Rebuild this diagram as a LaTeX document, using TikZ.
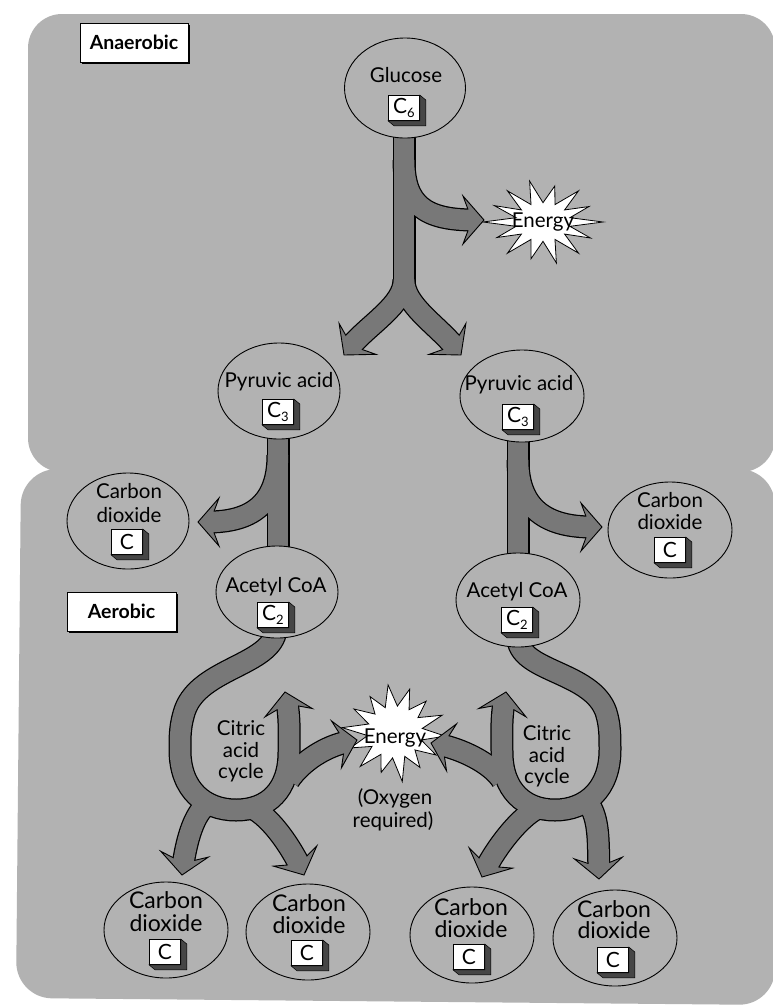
\documentclass[tikz,border=0pt]{standalone}
\usepackage{fontspec}
\setmainfont{Lato}
\usetikzlibrary{shapes.geometric,calc}
\definecolor{bggray}{RGB}{178,178,178}
\definecolor{arrowgray}{RGB}{120,120,120}
\definecolor{shadegray}{RGB}{70,70,70}
\tikzset{
  blob/.style={ellipse, draw=black, line width=0.9pt, fill=bggray, inner sep=0pt},
  txt/.style={inner sep=0pt, anchor=base, font=\fontsize{20.5}{24}\selectfont},
  bigtxt/.style={inner sep=0pt, anchor=base, font=\fontsize{23}{24}\selectfont},
  cboxsty/.style={draw=black, line width=0.8pt, fill=white, minimum width=31pt, minimum height=25pt, inner sep=0pt, font=\fontsize{21}{21}\selectfont},
  labelbox/.style={draw=black, line width=1pt, fill=white, inner sep=0pt, font=\bfseries\fontsize{19.5}{24}\selectfont},
  shaftout/.style={draw=black, line width=23pt},
  shaftin/.style={draw=arrowgray, line width=20.5pt},
  headsty/.style={fill=arrowgray, draw=black, line width=0.9pt, line join=miter},
  starsty/.style={fill=white, draw=black, line width=0.8pt, line join=miter},
}
\newcommand\fathead[2]{\path[headsty, shift={(#1)}, rotate=#2] (0,0) -- (-21,24) -- (-16,10.6) -- (-16,-10.6) -- (-21,-24) -- cycle;}
\newcommand\cshade[1]{\path[fill=shadegray, draw=black, line width=0.5pt] (#1.north east) -- ([shift={(6,5)}]#1.north east) -- ([shift={(6,5)}]#1.south east) -- ([shift={(6,5)}]#1.south west) -- (#1.south west) -- (#1.south east) -- cycle;}
\newcommand\Csub[1]{C\raisebox{-4pt}{\fontsize{13}{13}\selectfont #1}}
\newcommand\shaftpaths[1]{%
  \path[#1] (404,130) -- (404,285);
  \path[#1] (404,160) .. controls (404,205) and (425,220) .. (474,220);
  \path[#1] (404,280) .. controls (404,305) and (369,324) .. (350,347);
  \path[#1] (404,280) .. controls (404,305) and (436,324) .. (455,347);
  \path[#1] (278,430) -- (278,555);
  \path[#1] (278,455) .. controls (278,505) and (250,522) .. (208,522);
  \path[#1] (518,435) -- (518,558);
  \path[#1] (518,460) .. controls (518,510) and (548,527) .. (592,527);
  \path[#1] (276,630) .. controls (272,665) and (200,668) .. (185,710)
     .. controls (180,725) and (180,735) .. (180,750)
     .. controls (180,790) and (205,810) .. (236,810)
     .. controls (268,810) and (289,790) .. (289,752)
     .. controls (289,735) and (290,721) .. (287,702);
  \path[#1] (289,780) .. controls (303,760) and (327,746) .. (347,742);
  \path[#1] (205,806) .. controls (192,818) and (186,845) .. (183,865);
  \path[#1] (252,808) .. controls (272,818) and (291,848) .. (300,866);
  \path[#1] (518,640) .. controls (522,672) and (592,672) .. (606,712)
     .. controls (610,725) and (610,735) .. (610,750)
     .. controls (610,790) and (585,810) .. (555,810)
     .. controls (524,810) and (502,790) .. (502,752)
     .. controls (502,735) and (501,721) .. (504,702);
  \path[#1] (502,780) .. controls (490,762) and (460,749) .. (441,745);
  \path[#1] (538,808) .. controls (518,818) and (495,850) .. (486,868);
  \path[#1] (590,806) .. controls (600,822) and (598,849) .. (599,869);
}
\begin{document}
\begin{tikzpicture}[x=1pt,y=-1pt]
\useasboundingbox (0,0) rectangle (773,1005);
\fill[white] (0,0) rectangle (773,1005);
% regions
\fill[bggray, rounded corners=34pt] (28,14) -- (775,14) -- (775,472) -- (28,472) -- cycle;
\fill[bggray, rounded corners=36pt] (21,469) -- (775,469) -- (775,1005) -- (16,998) -- cycle;
% star centres
\coordinate (en1c) at (543,222);
\coordinate (en2c) at (395,732);
\draw[starsty, shift={(en1c)}, xscale=60, yscale=42]
  (0:1) -- (12.9:.46) -- (25.7:.88) -- (38.6:.46) -- (51.4:.95) -- (64.3:.46) -- (77.1:1) -- (90:.46)
  -- (102.9:.9) -- (115.7:.46) -- (128.6:.95) -- (141.4:.46) -- (154.3:.85) -- (167.1:.46) -- (180:1)
  -- (192.9:.46) -- (205.7:.9) -- (218.6:.46) -- (231.4:.95) -- (244.3:.46) -- (257.1:1) -- (270:.46)
  -- (282.9:.88) -- (295.7:.46) -- (308.6:.95) -- (321.4:.46) -- (334.3:.85) -- (347.1:.46) -- cycle;
\draw[starsty, shift={(en2c)}, xscale=53, yscale=50]
  (5:.95) -- (17.9:.52) -- (30.7:.9) -- (43.6:.52) -- (56.4:.85) -- (69.3:.52) -- (82.1:1) -- (95:.52)
  -- (107.9:.85) -- (120.7:.52) -- (133.6:.95) -- (146.4:.52) -- (159.3:.9) -- (172.1:.52) -- (185:1)
  -- (197.9:.52) -- (210.7:.9) -- (223.6:.52) -- (236.4:.85) -- (249.3:.52) -- (262.1:.95) -- (275:.52)
  -- (287.9:.9) -- (300.7:.52) -- (313.6:.85) -- (326.4:.52) -- (339.3:.95) -- (352.1:.52) -- cycle;
% arrow tips
\coordinate (hE1) at (484,220);
\coordinate (hSL) at (344,355);
\coordinate (hSR) at (461,355);
\coordinate (hC1) at (198,522);
\coordinate (hC2) at (602,527);
\coordinate (hLup) at (285,692);
\coordinate (hLen) at (357,740);
\coordinate (hLl) at (182,875);
\coordinate (hLr) at (304,875);
\coordinate (hRup) at (506,692);
\coordinate (hRen) at (431,743);
\coordinate (hRl) at (482,877);
\coordinate (hRr) at (599,879);
% arrows
\shaftpaths{shaftout}
\fathead{hE1}{0}
\fathead{hSL}{230}
\fathead{hSR}{-50}
\fathead{hC1}{180}
\fathead{hC2}{0}
\fathead{hLup}{100}
\fathead{hLen}{12}
\fathead{hLl}{-97}
\fathead{hLr}{-65}
\fathead{hRup}{80}
\fathead{hRen}{168}
\fathead{hRl}{-115}
\fathead{hRr}{-88}
\shaftpaths{shaftin}
% ellipses
\node[blob, minimum width=121pt, minimum height=100pt] (gl) at (405,88) {};
\node[blob, minimum width=122pt, minimum height=96pt] (p1) at (279,391) {};
\node[blob, minimum width=124pt, minimum height=92pt] (p2) at (522,396) {};
\node[blob, minimum width=122pt, minimum height=92pt] (a1) at (277,592) {};
\node[blob, minimum width=124pt, minimum height=94pt] (a2) at (518,600) {};
\node[blob, minimum width=122pt, minimum height=96pt] (c1) at (128,521) {};
\node[blob, minimum width=124pt, minimum height=96pt] (c2) at (670,530) {};
\node[blob, minimum width=124pt, minimum height=96pt] (b1) at (166,930) {};
\node[blob, minimum width=124pt, minimum height=96pt] (b2) at (308,932) {};
\node[blob, minimum width=124pt, minimum height=96pt] (b3) at (472,935) {};
\node[blob, minimum width=124pt, minimum height=96pt] (b4) at (615,938) {};
% texts
\node[txt] (glt) at (406,82) {Glucose};
\node[txt] (p1t) at (279,387) {Pyruvic acid};
\node[txt] (p2t) at (519,390) {Pyruvic acid};
\node[txt] (a1t) at (276,592) {Acetyl CoA};
\node[txt] (a2t) at (517,597) {Acetyl CoA};
\node[txt] (c1t) at (129,498) {Carbon};
\node[txt] (c1u) at (129,522) {dioxide};
\node[txt] (c2t) at (670,507) {Carbon};
\node[txt] (c2u) at (670,529) {dioxide};
\node[bigtxt] (b1t) at (166,908) {Carbon};
\node[bigtxt] (b1u) at (166,931) {dioxide};
\node[bigtxt] (b2t) at (309,911) {Carbon};
\node[bigtxt] (b2u) at (309,933) {dioxide};
\node[bigtxt] (b3t) at (471,915) {Carbon};
\node[bigtxt] (b3u) at (471,937) {dioxide};
\node[bigtxt] (b4t) at (614,917) {Carbon};
\node[bigtxt] (b4u) at (614,938) {dioxide};
\node[txt] (cl1) at (241,735) {Citric};
\node[txt] (cl2) at (241,757) {acid};
\node[txt] (cl3) at (241,778) {cycle};
\node[txt] (cr1) at (547,740) {Citric};
\node[txt] (cr2) at (547,762) {acid};
\node[txt] (cr3) at (547,783) {cycle};
\node[txt] (ox1) at (395,804) {(Oxygen};
\node[txt] (ox2) at (393,827) {required)};
\node[txt] (en1) at (543,227) {Energy};
\node[txt] (en2) at (395,743) {Energy};
% C boxes
\node[cboxsty] (glb) at (404,108) {\Csub{6}}; \cshade{glb}
\node[cboxsty] (p1b) at (278,412) {\Csub{3}}; \cshade{p1b}
\node[cboxsty] (p2b) at (518,417) {\Csub{3}}; \cshade{p2b}
\node[cboxsty] (a1b) at (273,615) {\Csub{2}}; \cshade{a1b}
\node[cboxsty] (a2b) at (517,620) {\Csub{2}}; \cshade{a2b}
\node[cboxsty] (c1b) at (127,542) {C}; \cshade{c1b}
\node[cboxsty] (c2b) at (670,550) {C}; \cshade{c2b}
\node[cboxsty] (b1b) at (165,952) {C}; \cshade{b1b}
\node[cboxsty] (b2b) at (307,953) {C}; \cshade{b2b}
\node[cboxsty] (b3b) at (469,957) {C}; \cshade{b3b}
\node[cboxsty] (b4b) at (613,960) {C}; \cshade{b4b}
% section labels
\fill[black] (82,25) rectangle (190,64);
\node[labelbox, minimum width=108pt, minimum height=39pt] (anaer) at (134,42.5) {Anaerobic};
\fill[black] (69,594) rectangle (178,633);
\node[labelbox, minimum width=109pt, minimum height=39pt] (aer) at (121.5,611.5) {Aerobic};
\end{tikzpicture}
\end{document}
